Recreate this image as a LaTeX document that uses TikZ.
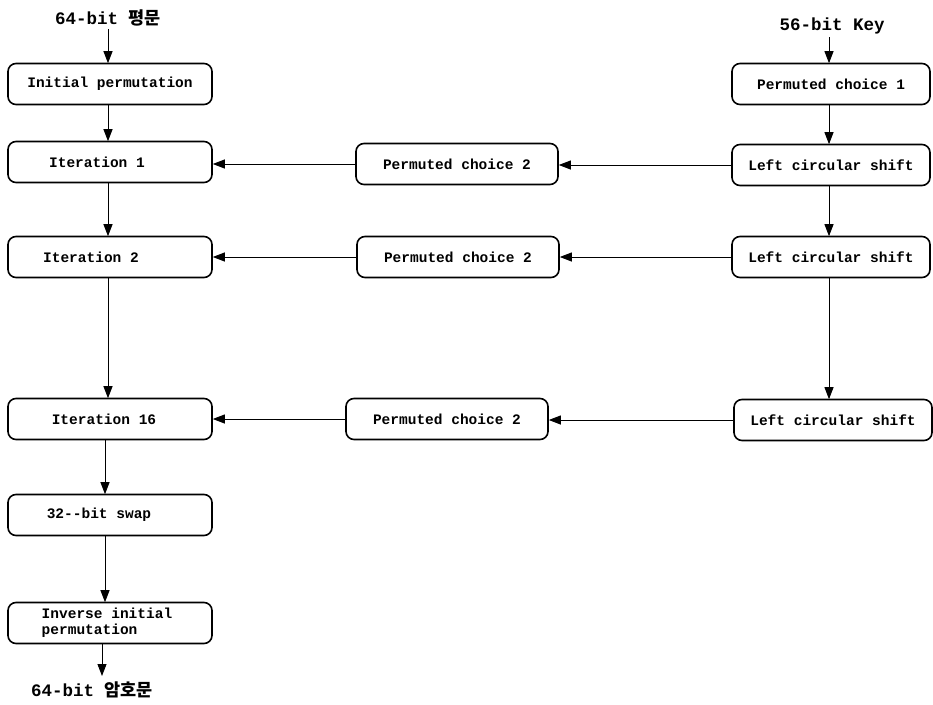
\documentclass[tikz,border=0pt]{standalone}
\usepackage{fontspec}
\setmainfont{Liberation Mono}
\newfontfamily\krfont{Noto Sans CJK KR}
\usetikzlibrary{arrows.meta}
\begin{document}
\begin{tikzpicture}[x=1pt,y=-1pt,
  box/.style={draw,line width=1.6pt,rounded corners=8pt,minimum height=41pt,inner sep=2pt,font=\fontsize{14.5}{16}\selectfont\bfseries},
  lbox/.style={box,minimum width=204pt},
  rbox/.style={box,minimum width=198pt},
  mbox/.style={box,minimum width=202pt},
  conn/.style={draw,line width=0.9pt,-{Triangle[length=12pt,width=9pt]}},
  lab/.style={font=\fontsize{17.5}{19}\selectfont\bfseries}]
\useasboundingbox (0,0) rectangle (933,704);
% left column
\node[lab] (in) at (108,18) {64-bit {\krfont\bfseries 평문}};
\node[lbox] (ip) at (110,84) {Initial permutation};
\node[lbox] (it1) at (110,162) {\hspace*{-26pt}Iteration 1};
\node[lbox] (it2) at (110,257) {\hspace*{-38pt}Iteration 2};
\node[lbox] (it16) at (110,419) {\hspace*{-12pt}Iteration 16};
\node[lbox] (sw) at (110,515) {\hspace*{-22pt}32-{}-bit swap};
\node[lbox,align=left] (iip) at (110,623) {\hspace*{-6pt}Inverse initial\\\hspace*{-6pt}permutation\hspace*{34pt}};
\node[lab] (out) at (92,690) {64-bit {\krfont\bfseries 암호문}};
% right column
\node[lab] (key) at (832,26) {56-bit Key};
\node[rbox] (pc1) at (831,84) {Permuted choice 1};
\node[rbox] (l1) at (831,165) {Left circular shift};
\node[rbox] (l2) at (831,257) {Left circular shift};
\node[rbox] (l3) at (833,420) {Left circular shift};
% middle column
\node[mbox] (p1) at (457,164) {Permuted choice 2};
\node[mbox] (p2) at (458,257) {Permuted choice 2};
\node[mbox] (p3) at (447,419) {Permuted choice 2};
% vertical connectors left
\draw[conn] (108,29) -- (108,63.2);
\draw[conn] (108,104.7) -- (108,141.2);
\draw[conn] (108,182.7) -- (108,236.2);
\draw[conn] (108,277.7) -- (108,398.2);
\draw[conn] (105,439.7) -- (105,494.2);
\draw[conn] (105,535.7) -- (105,602.2);
\draw[conn] (102,643.7) -- (102,676);
% vertical connectors right
\draw[conn] (829,37) -- (829,63.2);
\draw[conn] (829,104.7) -- (829,144.2);
\draw[conn] (829,185.7) -- (829,236.2);
\draw[conn] (829,277.7) -- (829,399.2);
% horizontal connectors
\draw[conn] (l1.west) -- (p1.east |- l1.west);
\draw[conn] (p1.west) -- (it1.east |- p1.west);
\draw[conn] (l2.west) -- (p2.east);
\draw[conn] (p2.west) -- (it2.east);
\draw[conn] (l3.west) -- (p3.east |- l3.west);
\draw[conn] (p3.west) -- (it16.east);
\end{tikzpicture}
\end{document}
